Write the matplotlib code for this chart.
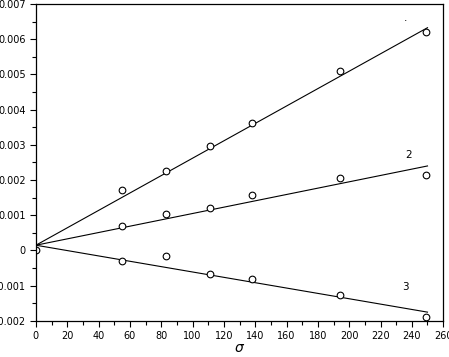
import matplotlib.pyplot as plt
import numpy as np

# measured points (sigma, value) for three series
sigma = [55, 83, 111, 138, 194, 249]
series1 = [0.00172, 0.00226, 0.00297, 0.00362, 0.00510, 0.00620]
series2 = [0.00070, 0.00104, 0.00121, 0.00158, 0.00206, 0.00215]
series3 = [-0.00030, -0.00015, -0.00066, -0.00080, -0.00126, -0.00189]
origin_x = [0]
origin_y = [0.0]

# fitted lines: common intercept, one slope per series
intercept = 0.00015
slopes = [2.47e-5, 9.0e-6, -7.6e-6]
fit_range = [0, 250]

labels = ["·", "2", "3"]
label_x = [236, 238, 236]
label_y = [0.0065, 0.00272, -0.00103]

fig = plt.figure(figsize=(4.49, 3.57), dpi=100)
ax = fig.add_axes([0.080, 0.101, 0.907, 0.888])

xs = np.array(fit_range)
for s in slopes:
    ax.plot(xs, intercept + s * xs, color='black', lw=0.8)

for ys in (series1, series2, series3):
    ax.plot(sigma, ys, 'o', mfc='white', mec='black', ms=4.8, mew=0.8)
ax.plot(origin_x, origin_y, 'o', mfc='none', mec='black', ms=4.8, mew=0.8)

for t, x, y in zip(labels, label_x, label_y):
    ax.text(x, y, t, fontsize=7.5, ha='center', va='center')

ax.set_xlim(0, 260)
ax.set_ylim(-0.002, 0.007)
ax.set_xticks(np.arange(0, 261, 20))
ax.set_xticks(np.arange(0, 261, 10), minor=True)
ax.set_yticks(np.arange(-0.002, 0.0071, 0.001))
ax.set_yticks(np.arange(-0.002, 0.0071, 0.0005), minor=True)
ax.set_yticklabels(["-0.002", "-0.001", "0", "0.001", "0.002", "0.003",
                    "0.004", "0.005", "0.006", "0.007"])
ax.tick_params(which='both', direction='out', labelsize=7, width=0.8)
ax.tick_params(which='major', length=4)
ax.tick_params(which='minor', length=3)
ax.set_xlabel(r'$\sigma$', fontsize=10, labelpad=0)
for sp in ax.spines.values():
    sp.set_linewidth(0.9)

fig.savefig('out.png', dpi=100)
